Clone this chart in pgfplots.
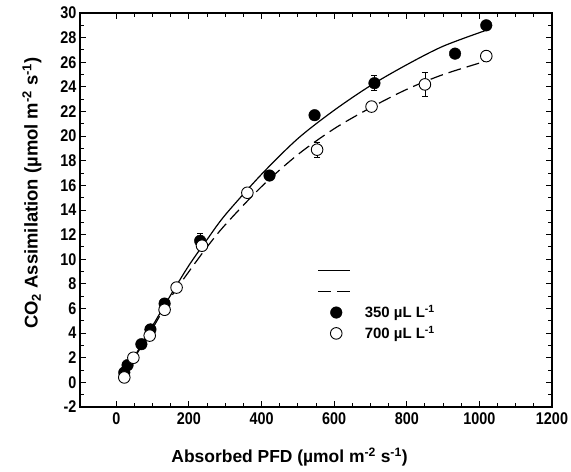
\documentclass[border=0pt]{standalone}
\usepackage{fontspec}
\setmainfont{Liberation Sans}
\newfontfamily\narrowsans[FakeStretch=0.85]{Liberation Sans}
\usepackage{pgfplots}
\pgfplotsset{compat=1.18}

\pgfplotsset{
  markleg/.style={legend image code/.code={\draw[mark repeat=1,mark phase=1,##1] plot coordinates {(18bp,0bp)};}},
  lineleg/.style={legend image code/.code={\draw[##1] (0bp,0bp)--(32bp,0bp);}},
}

\pgfplotstableread{
x y e
22 0.8 0
31 1.4 0
69 3.1 0
94 4.3 0
133 6.4 0
231 11.5 0.6
422 16.8 0
546 21.7 0
711 24.3 0.6
933 26.7 0
1019 29.0 0
}\lowco

\pgfplotstableread{
x y e
22 0.4 0
47 2.0 0
92 3.8 0
133 5.9 0
166 7.7 0
236 11.1 0
361 15.4 0
553 18.9 0.6
703 22.4 0
850 24.2 0.95
1019 26.5 0.4
}\highco

\pgfplotstableread{
x y
20 0.7
50 2.1
100 4.6
150 7.1
200 9.5
250 11.6
300 13.6
400 16.9
500 19.8
600 22.1
700 24.1
800 25.8
900 27.3
1019 28.6
}\lowfit

\pgfplotstableread{
x y
20 0.5
50 2.0
100 4.4
150 6.9
200 9.0
250 11.0
300 12.8
400 15.9
500 18.5
600 20.6
700 22.3
800 23.8
900 25.0
1019 26.1
}\highfit

\begin{document}
\begin{tikzpicture}
\begin{axis}[
  scale only axis, width=472bp, height=394bp,
  xmin=-100, xmax=1200, ymin=-2, ymax=30,
  xtick={0,200,...,1200}, ytick={-2,0,...,30},
  minor x tick num=3, minor y tick num=1,
  tick align=inside, major tick length=6bp, minor tick length=4bp,
  xtick pos=both, ytick pos=both,
  xticklabel pos=lower, yticklabel pos=left,
  axis line style={line width=1.4pt},
  every tick/.style={line width=0.9pt, black},
  /pgf/number format/assume math mode=true,
  /pgf/number format/set thousands separator={},
  ticklabel style={font=\narrowsans\fontsize{17}{19}\selectfont\bfseries},
  xticklabel style={yshift=-2bp},
  xlabel={Absorbed PFD (µmol m\textsuperscript{-2} s\textsuperscript{-1})},
  ylabel={CO\textsubscript{2} Assimilation (µmol m\textsuperscript{-2} s\textsuperscript{-1})},
  xlabel style={font=\fontsize{17.5}{19}\selectfont\bfseries,
    at={(axis description cs:0.444,-0.127)}, anchor=center},
  ylabel style={font=\fontsize{18.5}{20}\selectfont\bfseries,
    at={(axis description cs:-0.1017,0.543)}, anchor=center, rotate=0},
  legend style={draw=none, fill=none, inner sep=0pt, at={(axis cs:554,9.65)}, anchor=north west,
    font=\fontsize{15}{17}\selectfont\bfseries, row sep=7bp, column sep=14bp,
    nodes={inner sep=0pt}},
  legend cell align=left,
]
\addlegendimage{lineleg, line width=1.2pt}
\addlegendentry{\phantom{350 µL L\textsuperscript{-1}}}
\addlegendimage{lineleg, line width=1.2pt, dash pattern=on 13bp off 6bp}
\addlegendentry{\phantom{350 µL L\textsuperscript{-1}}}
\addlegendimage{markleg, only marks, mark=*, mark size=5.8bp, mark options={fill=black, draw=black}}
\addlegendentry{350 µL L\textsuperscript{-1}}
\addlegendimage{markleg, only marks, mark=*, mark size=5.8bp, mark options={fill=white, draw=black, line width=0.9pt}}
\addlegendentry{700 µL L\textsuperscript{-1}}

\addplot[forget plot, black, line width=1.2pt, smooth] table[x=x, y=y] {\lowfit};
\addplot[forget plot, black, line width=1.2pt, smooth, dash pattern=on 13bp off 6bp] table[x=x, y=y] {\highfit};

\addplot[forget plot, only marks, mark=*, mark size=5.8bp, mark options={fill=black, draw=black},
  error bars/.cd, y dir=both, y explicit, error mark options={rotate=90, mark size=3bp, line width=0.6pt},
  error bar style={line width=0.6pt}]
  table[x=x, y=y, y error=e] {\lowco};
\addplot[forget plot, only marks, mark=*, mark size=5.8bp, mark options={fill=white, draw=black, line width=0.9pt},
  error bars/.cd, y dir=both, y explicit, error mark options={rotate=90, mark size=3bp, line width=0.6pt},
  error bar style={line width=0.6pt}]
  table[x=x, y=y, y error=e] {\highco};
\end{axis}
\pgfresetboundingbox
\path[use as bounding box] ([xshift=-80bp,yshift=-65bp]current axis.south west) rectangle ([xshift=19bp,yshift=13bp]current axis.north east);
\end{tikzpicture}
\end{document}
